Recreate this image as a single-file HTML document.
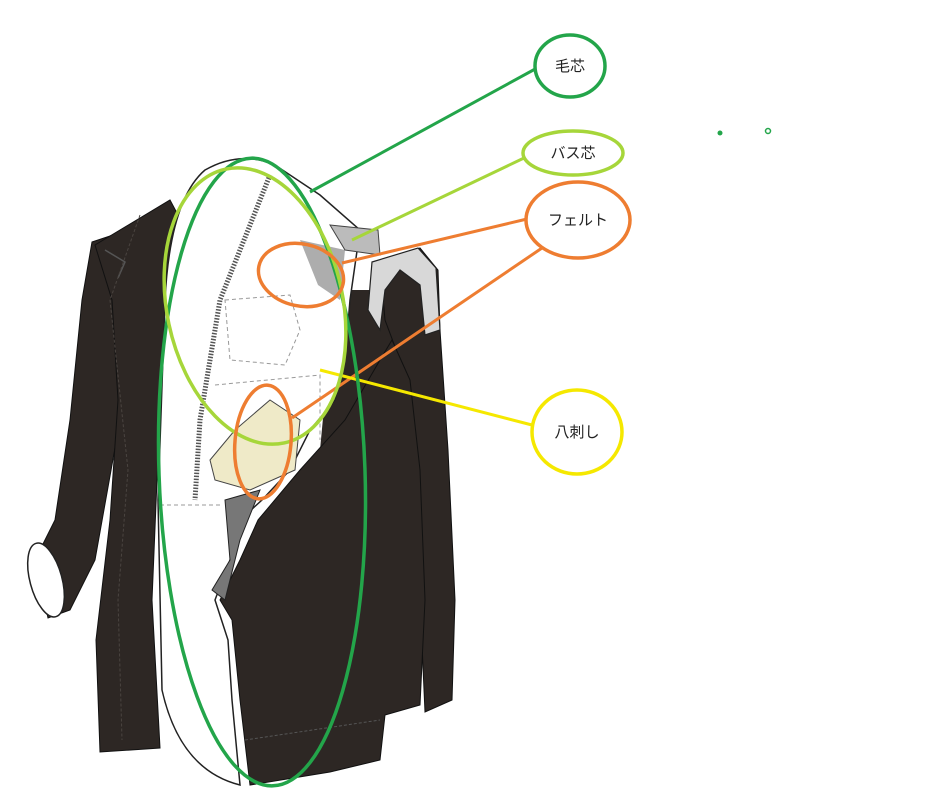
<!DOCTYPE html>
<html><head><meta charset="utf-8"><style>
html,body{margin:0;padding:0;background:#fff;}
svg{display:block;}
text{font-family:"Liberation Sans","Noto Sans CJK JP",sans-serif;font-size:15px;fill:#222;}
</style></head><body>
<svg width="951" height="800" viewBox="0 0 951 800" xmlns="http://www.w3.org/2000/svg">
<rect width="951" height="800" fill="#fff"/>
<!-- left sleeve -->
<path d="M92,242 L128,230 L140,300 L120,420 L95,560 L70,610 L48,618 L35,560 L55,520 L70,420 L82,300 Z" fill="#2d2724" stroke="#111" stroke-width="1"/>
<ellipse cx="46" cy="580" rx="16" ry="38" transform="rotate(-15 46 580)" fill="#fff" stroke="#222" stroke-width="1.5"/>
<!-- left front -->
<path d="M95,245 L170,200 L178,215 L165,320 L157,480 L152,600 L160,748 L100,752 L96,640 L110,520 L118,400 L112,300 Z" fill="#2d2724" stroke="#111" stroke-width="1"/>
<path d="M105,250 L125,262 L118,278" fill="none" stroke="#555" stroke-width="1.5"/>
<path d="M140,215 L110,300 L128,470 L118,600 L122,740" fill="none" stroke="#4a4440" stroke-width="1" stroke-dasharray="3 2"/>
<!-- dark fill between panel and sleeve -->
<path d="M335,290 L385,290 L425,330 L425,500 L320,450 Z" fill="#2d2724"/>
<!-- right sleeve -->
<path d="M380,262 L420,248 L438,270 L440,330 L448,450 L455,600 L452,700 L425,712 L420,600 L410,470 L400,360 L385,320 Z" fill="#2d2724" stroke="#111"/>
<path d="M372,262 L418,248 L436,268 L440,330 L425,335 L420,285 L400,270 L385,290 L380,330 L368,310 Z" fill="#d8d8d8" stroke="#222" stroke-width="1.2"/>
<!-- right front -->
<path d="M258,520 L300,470 L345,420 L380,360 L392,340 L410,380 L420,470 L425,600 L420,705 L385,715 L380,760 L330,772 L250,785 L240,700 L232,620 L220,600 L240,560 Z" fill="#2d2724" stroke="#111"/>
<path d="M245,740 L380,720" stroke="#555" stroke-width="1" stroke-dasharray="3 2"/>
<!-- white interior panel -->
<path d="M205,170 Q240,150 275,165 L320,195 L360,230 L350,300 L345,360 L335,400 L310,430 L290,470 L262,500 L240,520 L230,560 L215,600 L228,640 L232,700 L240,785 Q180,770 162,690 L158,500 L165,300 Q170,200 205,170 Z" fill="#fff" stroke="#222" stroke-width="1.5"/>
<!-- lapel edge stripe -->
<path d="M270,175 L220,300 L200,420 L195,500" fill="none" stroke="#555" stroke-width="5" stroke-dasharray="1.5 1.5"/>
<!-- hatched textures -->
<path d="M300,240 L345,250 L340,300 L318,285 Z" fill="#8a8a8a" opacity="0.7"/>
<path d="M330,225 L378,230 L380,255 L345,250 Z" fill="#bbb" stroke="#444"/>
<path d="M235,430 L270,400 L300,420 L295,470 L250,490 L215,480 L210,460 Z" fill="#efeac8" stroke="#444"/>
<path d="M225,500 L260,490 L240,540 L225,600 L212,590 L230,560 Z" fill="#777" stroke="#222"/>
<path d="M225,300 L290,295 L300,330 L285,365 L230,360 Z" fill="none" stroke="#999" stroke-dasharray="4 3"/>
<path d="M215,385 L320,375 L320,440 M160,505 L220,505" fill="none" stroke="#999" stroke-dasharray="4 3"/>
<!-- connector lines -->
<line x1="310" y1="192" x2="537" y2="68" stroke="#23a54a" stroke-width="3"/>
<line x1="352" y1="240" x2="524" y2="158" stroke="#a6d63a" stroke-width="3"/>
<line x1="342" y1="263" x2="527" y2="219" stroke="#ee7d31" stroke-width="3"/>
<line x1="292" y1="418" x2="542" y2="248" stroke="#ee7d31" stroke-width="3"/>
<line x1="320" y1="370" x2="532" y2="425" stroke="#f5e800" stroke-width="3"/>
<!-- highlight ellipses -->
<ellipse cx="262" cy="472" rx="103" ry="314" transform="rotate(-2 262 472)" fill="none" stroke="#23a54a" stroke-width="3.5"/>
<ellipse cx="255" cy="306" rx="88" ry="140" transform="rotate(-12 255 306)" fill="none" stroke="#a6d63a" stroke-width="3.5"/>
<ellipse cx="301" cy="275" rx="43" ry="31" transform="rotate(12 301 275)" fill="none" stroke="#ee7d31" stroke-width="3.5"/>
<ellipse cx="263" cy="442" rx="28" ry="57" transform="rotate(5 263 442)" fill="none" stroke="#ee7d31" stroke-width="3.5"/>
<!-- label circles -->
<ellipse cx="570" cy="66" rx="35" ry="31" fill="#fff" stroke="#23a54a" stroke-width="3.5"/>
<text x="570" y="71" text-anchor="middle">毛芯</text>
<ellipse cx="573" cy="153" rx="50" ry="22" fill="#fff" stroke="#a6d63a" stroke-width="3.5"/>
<text x="573" y="158" text-anchor="middle">バス芯</text>
<ellipse cx="578" cy="220" rx="52" ry="38" fill="#fff" stroke="#ee7d31" stroke-width="3.5"/>
<text x="578" y="225" text-anchor="middle">フェルト</text>
<ellipse cx="577" cy="432" rx="45" ry="42" fill="#fff" stroke="#f5e800" stroke-width="3.5"/>
<text x="577" y="437" text-anchor="middle">八刺し</text>
<!-- dots -->
<circle cx="720" cy="133" r="2.5" fill="#23a54a"/>
<circle cx="768" cy="131" r="2.5" fill="none" stroke="#23a54a" stroke-width="1.5"/>
</svg>
</body></html>
